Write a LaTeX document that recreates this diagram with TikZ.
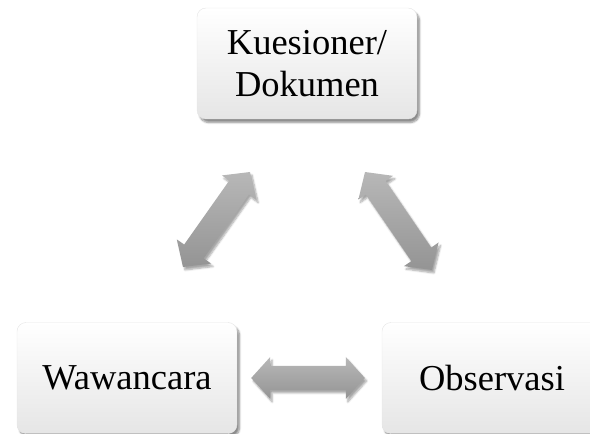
\documentclass[tikz,border=0pt]{standalone}
\usepackage{fontspec}
\setmainfont{Liberation Serif}
\usetikzlibrary{calc,shadows.blur}

\tikzset{
  cardbox/.style={rectangle, rounded corners=9pt, minimum width=220pt, minimum height=111pt,
    align=center, draw=black!10, top color=white, bottom color=black!10,
    blur shadow={shadow xshift=2.5pt, shadow yshift=-3.5pt, shadow blur steps=8, shadow opacity=45},
    font=\fontsize{36.5}{42}\selectfont},
  fatarrow/.style={top color=black!28, bottom color=black!42,
    blur shadow={shadow xshift=2pt, shadow yshift=-3pt, shadow blur steps=6, shadow opacity=35}}
}

% double block arrow between two points (head length 19, head half width 21, shaft half width 12)
\newcommand{\blockarrow}[2]{%
  \path[fatarrow] (#1)
    -- ($(#1)!19pt!(#2)!21pt!90:(#2)$) -- ($(#1)!19pt!(#2)!12pt!90:(#2)$)
    -- ($(#2)!19pt!(#1)!12pt!-90:(#1)$) -- ($(#2)!19pt!(#1)!21pt!-90:(#1)$)
    -- (#2)
    -- ($(#2)!19pt!(#1)!21pt!90:(#1)$) -- ($(#2)!19pt!(#1)!12pt!90:(#1)$)
    -- ($(#1)!19pt!(#2)!12pt!-90:(#2)$) -- ($(#1)!19pt!(#2)!21pt!-90:(#2)$)
    -- cycle;}

\begin{document}
\begin{tikzpicture}[x=1pt,y=1pt]
\useasboundingbox (0,0) rectangle (590,434);

% three methods
\node[cardbox] (kues) at (307,370.5) {Kuesioner/\\Dokumen};
\node[cardbox] (wawan) at (127,56) {Wawancara};
\node[cardbox] (obs) at (492,56) {Observasi};

% arrow ends
\coordinate (l1) at (250,262);
\coordinate (l2) at (183,167);
\coordinate (r1) at (365,262);
\coordinate (r2) at (432,164);
\coordinate (h1) at ($(wawan.east)+(14,0)$);
\coordinate (h2) at ($(obs.west)+(-17,0)$);

\blockarrow{l1}{l2}
\blockarrow{r1}{r2}
\blockarrow{h1}{h2}
\end{tikzpicture}
\end{document}
